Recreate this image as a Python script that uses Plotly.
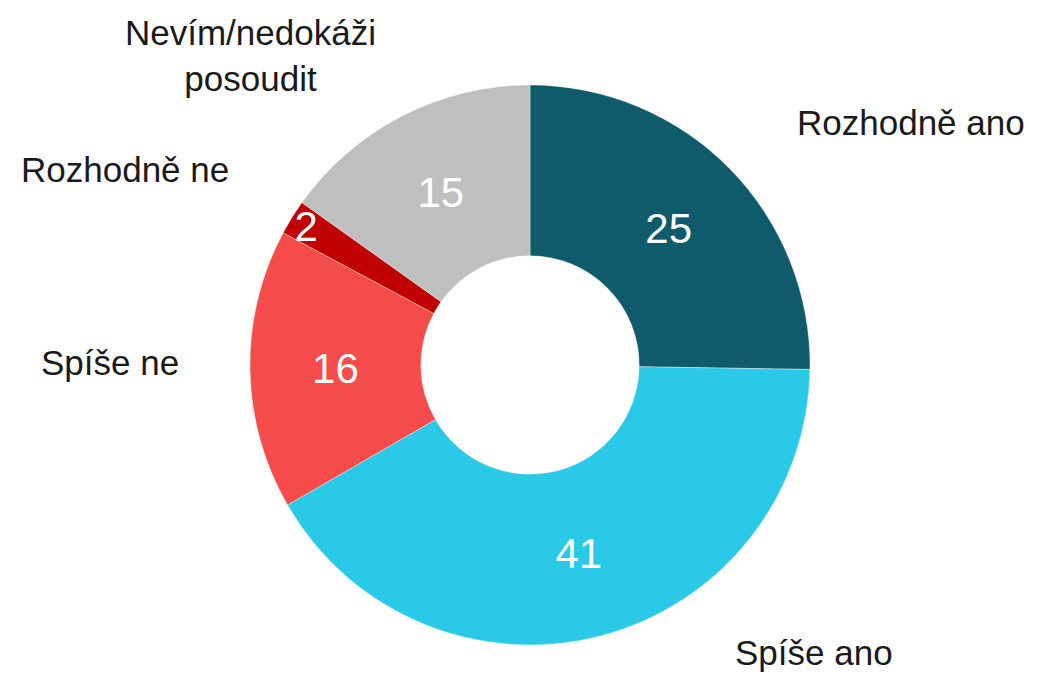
import plotly.graph_objects as go

# Odpovědi (po směru hodinových ručiček od 12 hodin)
labels = ["Rozhodně ano", "Spíše ano", "Spíše ne", "Rozhodně ne", "Nevím/nedokáži posoudit"]
values = [25, 41, 16, 2, 15]
colors = ["#0F5B6B", "#2BC9E8", "#F54B4A", "#C00000", "#BFBFBF"]

W, H = 1029, 666  # stránka má okraj 8 px
OFF = 8

fig = go.Figure(go.Pie(
    labels=labels,
    values=values,
    sort=False,
    direction="clockwise",
    rotation=0,
    hole=0.39,
    marker=dict(colors=colors, line=dict(color="rgba(255,255,255,0.6)", width=0.6)),
    texttemplate="%{value}",
    textposition="inside",
    insidetextorientation="horizontal",
    insidetextfont=dict(color="white", size=42, family="Liberation Sans"),
    domain=dict(x=[(250 - OFF) / W, (810 - OFF) / W],
                y=[1 - (645 - OFF) / H, 1 - (85 - OFF) / H]),
    hoverinfo="label+value",
    showlegend=False,
))

# popisky kolem prstence
outer = [
    ("Rozhodně ano", 911, 123, "middle"),
    ("Spíše ano", 814, 674, "bottom"),
    ("Spíše ne", 110, 362, "middle"),
    ("Rozhodně ne", 125, 170, "middle"),
    ("Nevím/nedokáži<br>posoudit", 250, 55, "middle"),
]
for txt, px, py, ya in outer:
    fig.add_annotation(
        text=txt, x=(px - OFF) / W, y=1 - (py - OFF) / H, xref="paper", yref="paper",
        showarrow=False, xanchor="center", yanchor=ya, align="center",
        font=dict(size=35, color="#1a1a1a", family="Liberation Sans"),
    )

fig.update_layout(
    width=W, height=H,
    margin=dict(l=0, r=0, t=0, b=0),
    paper_bgcolor="white", plot_bgcolor="white",
    uniformtext=dict(minsize=42, mode="show"),
)

fig.write_html("out.html")
